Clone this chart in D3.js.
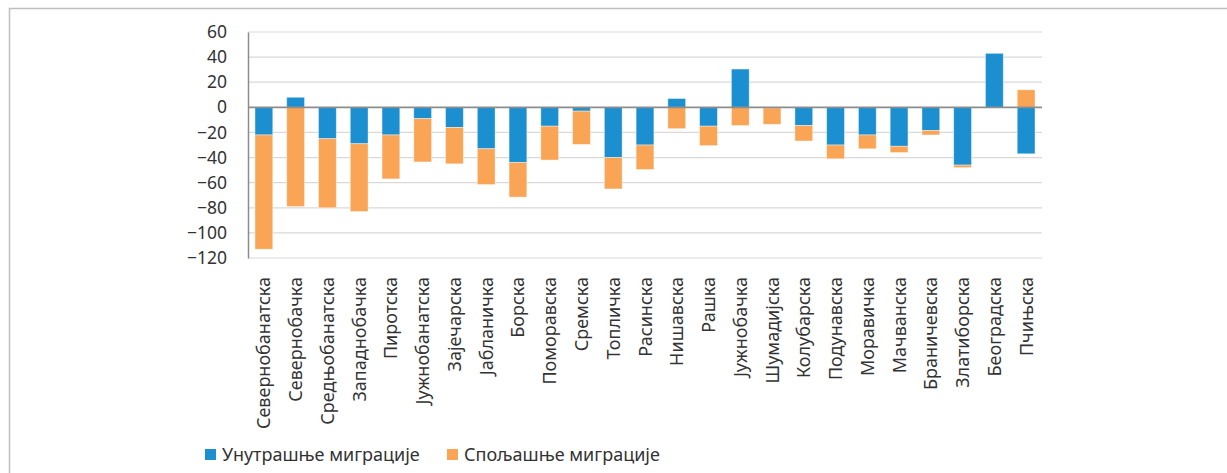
<!DOCTYPE html>
<html>
<head>
<meta charset="utf-8">
<script src="https://cdn.jsdelivr.net/npm/d3@7"></script>
<style>
  body { margin: 0; background: #fff; }
  svg { display: block; font-family: "Noto Sans", "Open Sans", sans-serif; }
</style>
</head>
<body>
<div id="chart"></div>
<script>
// districts (окрузи), in the order shown
const districts = [
  'Севернобанатска', 'Севернобачка', 'Средњобанатска', 'Западнобачка', 'Пиротска',
  'Јужнобанатска', 'Зајечарска', 'Јабланичка', 'Борска', 'Поморавска',
  'Сремска', 'Топличка', 'Расинска', 'Нишавска', 'Рашка',
  'Јужнобачка', 'Шумадијска', 'Колубарска', 'Подунавска', 'Моравичка',
  'Мачванска', 'Браничевска', 'Златиборска', 'Београдска', 'Пчињска'
];
// internal migration
const internal = [-22, 8, -25, -29, -22, -9, -16, -33, -44, -15,
                  -3, -40, -30, 7, -15, 30.5, -0.5, -14.5, -30, -22,
                  -31, -18.5, -46, 43, -37];
// external migration
const external = [-91, -79, -55, -54, -35, -34.5, -29, -28.5, -27.5, -27,
                  -26.5, -25, -19.5, -17, -15.5, -14.5, -13, -12.3, -11, -11,
                  -5, -3.5, -2, 0, 14];
const seriesNames = ['Унутрашње миграције', 'Спољашње миграције'];
const yTicks = [60, 40, 20, 0, -20, -40, -60, -80, -100, -120];

const width = 1227, height = 473;
const margin = { top: 32, right: 185, bottom: 215, left: 248 };
const colors = ['#1b8fd0', '#f9a555'];
const fontSize = 18;

const svg = d3.select('#chart').append('svg')
  .attr('width', width)
  .attr('height', height);

// outer frame
svg.append('rect')
  .attr('x', 9.5).attr('y', 8.5)
  .attr('width', width + 20).attr('height', height + 20)
  .attr('fill', 'none')
  .attr('stroke', '#bfbfbf')
  .attr('stroke-width', 1.5);

const rows = districts.map((d, i) => ({ name: d, internal: internal[i], external: external[i] }));
const stacked = d3.stack()
  .keys(['internal', 'external'])
  .offset(d3.stackOffsetDiverging)(rows);

const x = d3.scaleBand(districts, [margin.left, width - margin.right]).paddingInner(0.44).paddingOuter(0.22);
const y = d3.scaleLinear([-120, 60], [height - margin.bottom, margin.top]);

// gridlines
svg.append('g')
  .selectAll('line')
  .data(yTicks.filter(t => t !== 0))
  .join('line')
  .attr('x1', margin.left).attr('x2', width - margin.right)
  .attr('y1', d => y(d)).attr('y2', d => y(d))
  .attr('stroke', '#d9d9d9')
  .attr('stroke-width', 1.2);

// bars
svg.append('g')
  .selectAll('g')
  .data(stacked)
  .join('g')
  .attr('fill', (d, i) => colors[i])
  .selectAll('rect')
  .data(d => d)
  .join('rect')
  .attr('x', d => x(d.data.name))
  .attr('width', x.bandwidth())
  .attr('y', d => y(Math.max(d[0], d[1])))
  .attr('height', d => Math.abs(y(d[0]) - y(d[1])))
  .attr('stroke', 'rgba(255,255,255,0.5)')
  .attr('stroke-width', 0.8);

// zero line
svg.append('line')
  .attr('x1', margin.left).attr('x2', width - margin.right)
  .attr('y1', y(0)).attr('y2', y(0))
  .attr('stroke', '#8c8c8c')
  .attr('stroke-width', 1.6);

// y axis
const axisY = svg.append('g')
  .attr('transform', `translate(${margin.left},0)`)
  .call(d3.axisLeft(y).tickValues(yTicks).tickSize(0).tickPadding(21));
axisY.select('.domain').attr('stroke', '#8c8c8c').attr('stroke-width', 1.5);
axisY.selectAll('text')
  .attr('font-size', 17.5)
  .attr('font-family', '"Noto Sans", sans-serif')
  .attr('fill', '#333');

// category labels
svg.append('g')
  .selectAll('text')
  .data(districts)
  .join('text')
  .attr('transform', d => `translate(${x(d) + x.bandwidth() / 2 + 6.5},277)rotate(-90)`)
  .attr('text-anchor', 'end')
  .attr('font-size', fontSize)
  .attr('fill', '#333')
  .text(d => d);

// legend
const legendX = [205, 447];
const legend = svg.append('g')
  .selectAll('g')
  .data(seriesNames)
  .join('g')
  .attr('transform', (d, i) => `translate(${legendX[i]},449)`);
legend.append('rect')
  .attr('width', 11).attr('height', 11)
  .attr('fill', (d, i) => colors[i]);
legend.append('text')
  .attr('x', 17).attr('y', 11.5)
  .attr('font-size', fontSize)
  .attr('fill', '#333')
  .text(d => d);
</script>
</body>
</html>
